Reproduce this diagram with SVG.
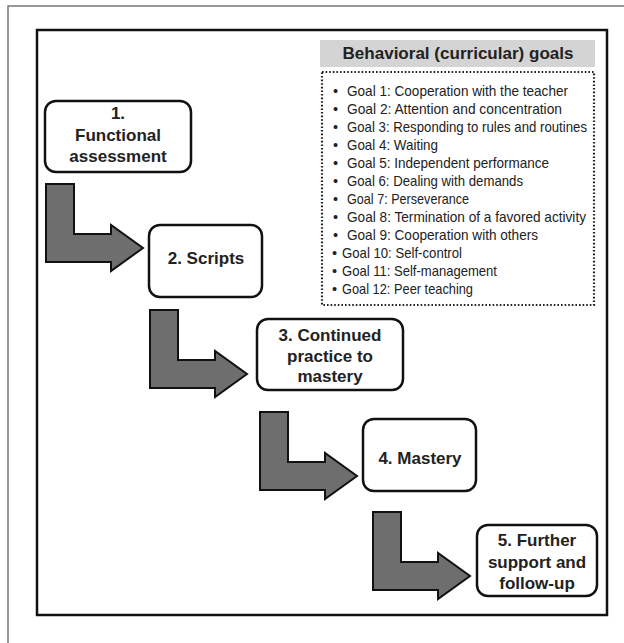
<svg xmlns="http://www.w3.org/2000/svg" width="624" height="643" viewBox="0 0 624 643">
<style>
.box{fill:#fff;stroke:#111;stroke-width:2.5}
.bt{font-family:"Liberation Sans",Arial,sans-serif;font-weight:bold;font-size:17px;fill:#222;text-anchor:middle}
.arr{fill:#6e6e6e;stroke:#111;stroke-width:2;stroke-linejoin:miter}
.li{font-family:"Liberation Sans",Arial,sans-serif;font-size:14.5px;fill:#222}
.hd{font-family:"Liberation Sans",Arial,sans-serif;font-weight:bold;font-size:16px;fill:#222;text-anchor:middle}
</style>
<defs>
<path id="ar" d="M0,0 H28 V50 H65 V41 L97,64 L65,87 V78 H0 Z"/>
</defs>
<rect x="0" y="0" width="624" height="643" fill="#fff"/>
<rect x="8" y="6" width="640" height="660" fill="none" stroke="#777" stroke-width="1.5"/>
<rect x="37" y="30" width="570" height="585" fill="#fff" stroke="#111" stroke-width="2.5"/>

<g id="goals">
<rect x="320" y="40" width="275" height="27" fill="#d4d4d4"/>
<text class="hd" x="458" y="59" textLength="231" lengthAdjust="spacingAndGlyphs">Behavioral (curricular) goals</text>
<rect x="322" y="72" width="272" height="233" fill="none" stroke="#222" stroke-width="2.2" stroke-dasharray="1.6 2"/>
<g class="li">
<text x="333" y="95.5">•</text><text x="347" y="95.5" textLength="221" lengthAdjust="spacingAndGlyphs">Goal 1: Cooperation with the teacher</text>
<text x="333" y="113.5">•</text><text x="347" y="113.5" textLength="215" lengthAdjust="spacingAndGlyphs">Goal 2: Attention and concentration</text>
<text x="333" y="131.5">•</text><text x="347" y="131.5" textLength="240" lengthAdjust="spacingAndGlyphs">Goal 3: Responding to rules and routines</text>
<text x="333" y="149.5">•</text><text x="347" y="149.5" textLength="91" lengthAdjust="spacingAndGlyphs">Goal 4: Waiting</text>
<text x="333" y="167.5">•</text><text x="347" y="167.5" textLength="202" lengthAdjust="spacingAndGlyphs">Goal 5: Independent performance</text>
<text x="333" y="185.5">•</text><text x="347" y="185.5" textLength="176" lengthAdjust="spacingAndGlyphs">Goal 6: Dealing with demands</text>
<text x="333" y="203.5">•</text><text x="347" y="203.5" textLength="122" lengthAdjust="spacingAndGlyphs">Goal 7: Perseverance</text>
<text x="333" y="221.5">•</text><text x="347" y="221.5" textLength="239" lengthAdjust="spacingAndGlyphs">Goal 8: Termination of a favored activity</text>
<text x="333" y="239.5">•</text><text x="347" y="239.5" textLength="191" lengthAdjust="spacingAndGlyphs">Goal 9: Cooperation with others</text>
<text x="332" y="257.5">•</text><text x="342" y="257.5" textLength="120" lengthAdjust="spacingAndGlyphs">Goal 10: Self-control</text>
<text x="332" y="275.5">•</text><text x="342" y="275.5" textLength="155" lengthAdjust="spacingAndGlyphs">Goal 11: Self-management</text>
<text x="332" y="293.5">•</text><text x="342" y="293.5" textLength="131" lengthAdjust="spacingAndGlyphs">Goal 12: Peer teaching</text>
</g>
</g>

<g id="connectors">
<use href="#ar" class="arr" x="46" y="184"/>
<use href="#ar" class="arr" x="150" y="310"/>
<use href="#ar" class="arr" x="260" y="412"/>
<use href="#ar" class="arr" x="373" y="512"/>
</g>

<g id="n1">
<rect class="box" x="45" y="101" width="146" height="71" rx="11"/>
<text class="bt" x="118" y="119">1.</text>
<text class="bt" x="118" y="141">Functional</text>
<text class="bt" x="118" y="162">assessment</text>
</g>
<g id="n2">
<rect class="box" x="149" y="225" width="113" height="72" rx="11"/>
<text class="bt" x="206" y="264">2. Scripts</text>
</g>
<g id="n3">
<rect class="box" x="257" y="319" width="146" height="71" rx="11"/>
<text class="bt" x="330" y="341">3. Continued</text>
<text class="bt" x="330" y="362">practice to</text>
<text class="bt" x="330" y="382">mastery</text>
</g>
<g id="n4">
<rect class="box" x="363" y="419" width="113" height="72" rx="11"/>
<text class="bt" x="420" y="464">4. Mastery</text>
</g>
<g id="n5">
<rect class="box" x="477" y="525" width="120" height="71" rx="11"/>
<text class="bt" x="537" y="546">5. Further</text>
<text class="bt" x="537" y="568">support and</text>
<text class="bt" x="537" y="589">follow-up</text>
</g>
</svg>
